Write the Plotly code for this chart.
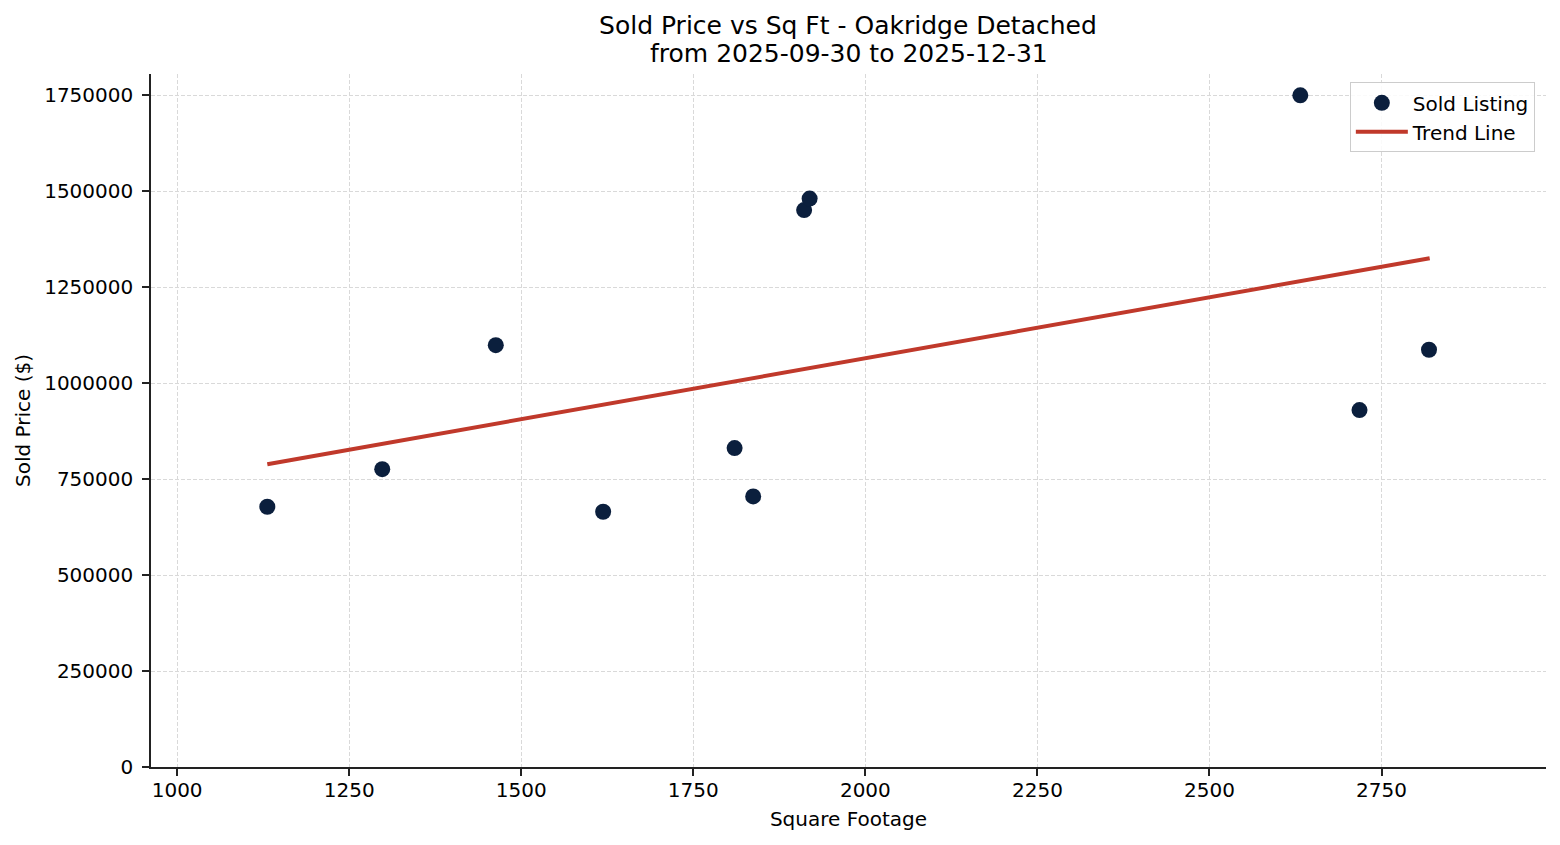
import plotly.graph_objects as go

# sold listings
sq_ft = [1131, 1298, 1463, 1619, 1810, 1837, 1911, 1919, 2632, 2718, 2819]
sold_price = [678000, 776000, 1099000, 665000, 831000, 705000,
              1451000, 1481000, 1750000, 930000, 1087000]

# trend line end points
trend_x = [1131, 2820]
trend_y = [789000, 1325500]

title = "Sold Price vs Sq Ft - Oakridge Detached"
subtitle = "from 2025-09-30 to 2025-12-31"

fig = go.Figure()

fig.add_trace(go.Scatter(
    x=sq_ft, y=sold_price, mode="markers", name="Sold Listing",
    marker=dict(color="#0b1f3d", size=16),
))
fig.add_trace(go.Scatter(
    x=trend_x, y=trend_y, mode="lines", name="Trend Line",
    line=dict(color="#c0392b", width=4),
))

axis_style = dict(
    showline=True, linecolor="#222222", linewidth=1.5,
    ticks="outside", ticklen=7, tickwidth=1.5, tickcolor="#222222",
    showgrid=True, gridcolor="#d9d9d9", gridwidth=1, griddash="4px,2px",
    zeroline=False, tickfont=dict(size=20, color="black"),
    title_font=dict(size=20, color="black"),
)

# page has an 8px body margin, so the figure is a bit smaller than the window
fig.update_layout(
    width=1552, height=837,
    font=dict(family="DejaVu Sans", color="black"),
    title=dict(text=title, x=0.5412, xanchor="center", y=0.9797, yanchor="middle",
               font=dict(size=25, color="black")),
    plot_bgcolor="white", paper_bgcolor="white",
    margin=dict(l=143, r=14, t=66, b=78),
    showlegend=True,
    legend=dict(x=0.992, y=0.988, xanchor="right", yanchor="top",
                bgcolor="rgba(255,255,255,0.85)", bordercolor="#cccccc",
                borderwidth=1, itemwidth=52, font=dict(size=20, color="black")),
)

# second title line
fig.add_annotation(text=subtitle, xref="paper", yref="paper", x=0.5, y=1.0303,
                   xanchor="center", yanchor="middle", showarrow=False,
                   font=dict(size=25, color="black"))

fig.update_xaxes(axis_style, range=[962, 2989], tick0=1000, dtick=250,
                 ticklabelstandoff=-3,
                 title=dict(text="Square Footage", standoff=11))
fig.update_yaxes(axis_style, range=[0, 1805500], tick0=0, dtick=250000,
                 tickformat="d", ticklabelstandoff=5,
                 title=dict(text="Sold Price ($)", standoff=8))

fig.write_html("out.html")
